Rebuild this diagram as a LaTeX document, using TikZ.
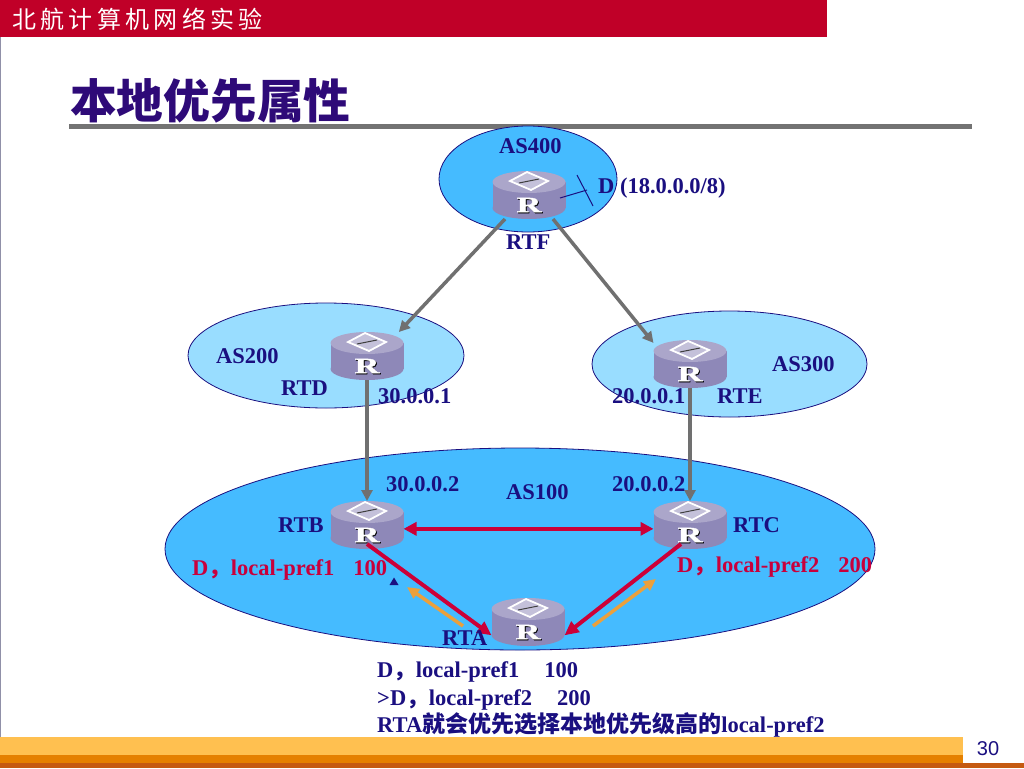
\documentclass[tikz,border=0pt]{standalone}
\usepackage{fontspec}
\setmainfont{Liberation Serif}
\setsansfont{Liberation Sans}
\newfontfamily\cjk{Noto Sans CJK SC}
\newfontfamily\cjkwide{Noto Sans CJK SC}[LetterSpace=18]
\newfontfamily\rfont{Liberation Serif Bold}[FakeBold=1.5]
\usetikzlibrary{arrows.meta,shapes.geometric}
\definecolor{navytxt}{HTML}{1A0F80}
\definecolor{titletxt}{HTML}{2E0A78}
\definecolor{redtxt}{HTML}{C8003C}
\definecolor{barred}{HTML}{C00028}
\definecolor{asdark}{HTML}{45BBFF}
\definecolor{aslight}{HTML}{99DDFF}
\definecolor{rbody}{HTML}{8E88B8}
\definecolor{rtop}{HTML}{ABA6CA}
\definecolor{linkgray}{HTML}{707070}
\definecolor{linkred}{HTML}{CC0038}
\definecolor{linkorange}{HTML}{EBA03C}
\definecolor{footyellow}{HTML}{FFC050}
\definecolor{footorange}{HTML}{E58000}
\definecolor{footbrown}{HTML}{C55A11}
\definecolor{edgegray}{HTML}{9090A8}
\tikzset{
  x=1pt,y=-1pt,
  asarea/.style={draw=navytxt,line width=0.8pt},
  routerbox/.style={minimum width=73pt,minimum height=48pt,inner sep=0pt,outer sep=0pt},
  lbl/.style={anchor=base west,inner sep=0pt,text=navytxt,font=\fontsize{22.5}{25}\selectfont\bfseries},
  redlbl/.style={lbl,text=redtxt},
  graylink/.style={draw=linkgray,line width=3.5pt,-{Triangle[length=11pt,width=11pt]}},
  redlink/.style={draw=linkred,line width=4pt,-{Triangle[length=14pt,width=13pt]}},
  reddouble/.style={draw=linkred,line width=3.5pt,{Triangle[length=13pt,width=13pt]}-{Triangle[length=13pt,width=13pt]}},
  orangelink/.style={draw=linkorange,line width=3.5pt,-{Triangle[length=12pt,width=11pt]}},
  thinlink/.style={draw=navytxt,line width=1pt},
}
\newcommand{\router}[3]{%
  \node[routerbox] (#1) at (#2,#3) {};
  \begin{scope}[shift={(#2,#3)}]
    \fill[rbody] (0,13) ellipse [x radius=36.5,y radius=11];
    \fill[rbody] (-36.5,-13) rectangle (36.5,13);
    \fill[rtop] (0,-13) ellipse [x radius=36.5,y radius=11];
    \draw[white,line width=1.8pt,fill=rtop!70!white] (-19,-14) -- (-2,-23) -- (19,-14) -- (2,-5) -- cycle;
    \draw[black!75,line width=1pt] (-10,-12) -- (10,-16);
    \node[inner sep=0pt,text=black,font=\fontsize{22}{24}\selectfont\rfont,xscale=1.55] (#1-shadow) at (0.9,10.9) {R};
    \node[inner sep=0pt,text=white,font=\fontsize{22}{24}\selectfont\rfont,xscale=1.55] (#1-r) at (0,10) {R};
  \end{scope}%
}
\begin{document}
\begin{tikzpicture}
\useasboundingbox (0,0) rectangle (1024,768);
\fill[white] (0,0) rectangle (1024,768);
% frame
\fill[edgegray] (0,37) rectangle (1.2,737);
\fill[barred] (0,0) rectangle (827,37);
\node[anchor=base west,inner sep=0pt,text=white,font=\fontsize{24}{26}\selectfont\cjkwide] (hdr) at (12,29) {北航计算机网络实验};
\node[anchor=base west,inner sep=0pt,text=titletxt,font=\fontsize{46.7}{50}\selectfont\cjk\bfseries] (ttl) at (70,118) {本地优先属性};
\fill[black!55] (69,124) rectangle (972,128.5);
% footer
\fill[footyellow] (0,736.5) rectangle (963,755);
\fill[footorange] (0,755) rectangle (963,763);
\fill[footbrown] (0,763) rectangle (1024,768);
\node[inner sep=0pt,text=navytxt,font=\fontsize{20}{22}\selectfont\sffamily] (pg) at (988,749) {30};
% AS areas
\draw[asarea,fill=asdark] (528,179) ellipse [x radius=89,y radius=53];
\draw[asarea,fill=aslight] (326,355.5) ellipse [x radius=138,y radius=52.5];
\draw[asarea,fill=aslight] (729.5,364) ellipse [x radius=137.5,y radius=53];
\draw[asarea,fill=asdark] (520,549) ellipse [x radius=355,y radius=101];
% routers
\router{rtf}{529}{195}
\router{rtd}{367}{356}
\router{rte}{690}{364}
\router{rtb}{367}{525}
\router{rtc}{690}{525}
\router{rta}{528}{622}
% connectors
\draw[graylink] (rtf.-135) -- (rtd.37);
\draw[graylink] (rtf.-45) -- (rte.150);
\draw[graylink] (rtd.south) -- (rtb.north);
\draw[graylink] (rte.south) -- (rtc.north);
\draw[reddouble] (rtb.-6) -- (rtc.186);
\draw[redlink] ([yshift=5pt]rtb.south) -- (rta.200);
\draw[redlink] ([yshift=5pt,xshift=-9pt]rtc.south) -- (rta.-20);
\coordinate (oa1) at (463,626);
\coordinate (oa2) at (407,587);
\coordinate (ob1) at (593,626);
\coordinate (ob2) at (656,579);
\draw[orangelink] (oa1) -- (oa2);
\draw[orangelink] (ob1) -- (ob2);
\fill[navytxt] (394,577.5) -- (398.5,585) -- (389.5,585) -- cycle;
% stub network
\coordinate (st1) at (587,190);
\coordinate (tk1) at (577,175);
\coordinate (tk2) at (593,206);
\draw[thinlink] ([xshift=31pt,yshift=-3pt]rtf.center) -- (st1);
\draw[thinlink] (tk1) -- (tk2);
% labels
\node[lbl] (l1) at (499,153) {AS400};
\node[lbl] (l2) at (598,193) {D (18.0.0.0/8)};
\node[lbl] (l3) at (506,249) {RTF};
\node[lbl] (l4) at (216,363) {AS200};
\node[lbl] (l5) at (281,395) {RTD};
\node[lbl] (l6) at (378,403) {30.0.0.1};
\node[lbl] (l7) at (612,403) {20.0.0.1};
\node[lbl] (l8) at (717,403) {RTE};
\node[lbl] (l9) at (772,371) {AS300};
\node[lbl] (l10) at (386,491) {30.0.0.2};
\node[lbl] (l11) at (506,499) {AS100};
\node[lbl] (l12) at (612,491) {20.0.0.2};
\node[lbl] (l13) at (278,532) {RTB};
\node[lbl] (l14) at (733,532) {RTC};
\node[lbl] (l15) at (442,645) {RTA};
\node[redlbl] (l16) at (192,575) {D{\cjk\bfseries ，}local-pref1\hspace{19pt}100};
\node[redlbl] (l17) at (677,572) {D{\cjk\bfseries ，}local-pref2\hspace{19pt}200};
\node[lbl] (l18) at (377,677) {D{\cjk\bfseries ，}local-pref1\hspace{25pt}100};
\node[lbl] (l19) at (377,705) {>D{\cjk\bfseries ，}local-pref2\hspace{25pt}200};
\node[lbl] (l20) at (377,732) {RTA{\cjk\bfseries\fontsize{23}{25}\selectfont 就会优先选择本地优先级高的}local-pref2};
\end{tikzpicture}
\end{document}
